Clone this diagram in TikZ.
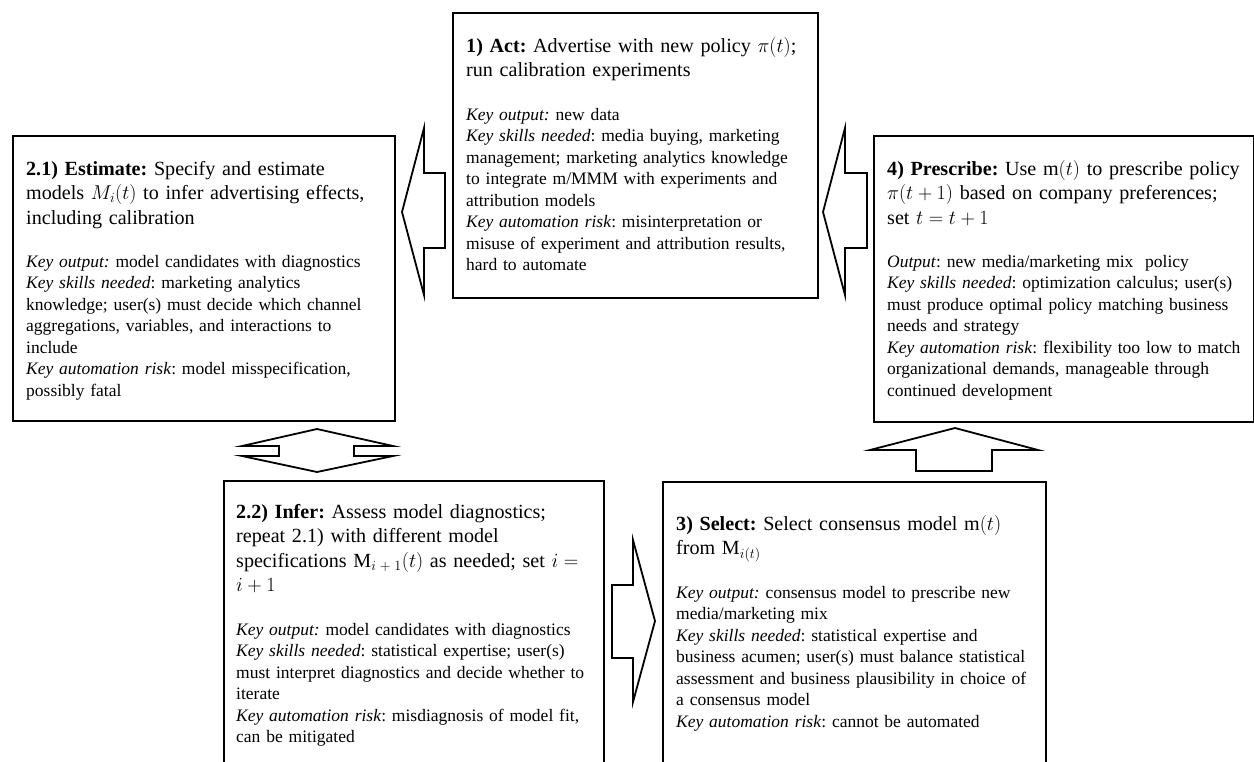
\documentclass[tikz,border=0pt]{standalone}
\usepackage{fix-cm}
\usepackage{fontspec}
\setmainfont{Liberation Serif}
\frenchspacing
\newcommand{\hfnt}{\fontsize{20.1}{24.5}\selectfont}
\newcommand{\bfnt}{\fontsize{17.5}{21.5}\selectfont}
\begin{document}
\frenchspacing
\begin{tikzpicture}[x=1pt,y=-1pt,
  box/.style={draw, line width=2.4pt, rectangle, inner sep=0pt, anchor=north west, fill=white},
  headtxt/.style={anchor=base west, inner sep=0pt, text width=400pt, align=left, font=\hfnt},
  bodytxt/.style={anchor=base west, inner sep=0pt, text width=400pt, align=left, font=\bfnt},
  barrow/.style={draw, line width=1.8pt, line join=miter, fill=white}]
\useasboundingbox (0,0) rectangle (1254,761);
\clip (0,0) rectangle (1254,761);
\fill[white] (0,0) rectangle (1254,761);

% boxes
\node[box, minimum width=365, minimum height=285] (act) at (452,12) {};
\node[box, minimum width=382, minimum height=285] (est) at (12,135) {};
\node[box, minimum width=380, minimum height=286] (pre) at (873,135) {};
\node[box, minimum width=380, minimum height=320] (inf) at (223,480) {};
\node[box, minimum width=383, minimum height=320] (sel) at (662,481) {};

% texts
\node[headtxt] (acth) at (466,52) {\textbf{1) Act:} Advertise with new policy $\pi(t)$;\\run calibration experiments};
\node[bodytxt] (actb) at (466,120) {\textit{Key output:} new data\\
\textit{Key skills needed}: media buying, marketing\\
management; marketing analytics knowledge\\
to integrate m/MMM with experiments and\\
attribution models\\
\textit{Key automation risk}: misinterpretation or\\
misuse of experiment and attribution results,\\
hard to automate};

\node[headtxt] (esth) at (26,175) {\textbf{2.1) Estimate:} Specify and estimate\\models $M_i(t)$ to infer advertising effects,\\including calibration};
\node[bodytxt] (estb) at (26,267) {\textit{Key output:} model candidates with diagnostics\\
\textit{Key skills needed}: marketing analytics\\
knowledge; user(s) must decide which channel\\
aggregations, variables, and interactions to\\
include\\
\textit{Key automation risk}: model misspecification,\\
possibly fatal};

\node[headtxt] (preh) at (887,175) {\textbf{4) Prescribe:} Use $\mathrm{m}(t)$ to prescribe policy\\$\pi(t+1)$ based on company preferences;\\set $t=t+1$};
\node[bodytxt] (preb) at (887,267) {\textit{Output}: new media/marketing mix\ \ policy\\
\textit{Key skills needed}: optimization calculus; user(s)\\
must produce optimal policy matching business\\
needs and strategy\\
\textit{Key automation risk}: flexibility too low to match\\
organizational demands, manageable through\\
continued development};

\node[headtxt] (infh) at (236,518) {\textbf{2.2) Infer:} Assess model diagnostics;\\repeat 2.1) with different model\\specifications $\mathrm{M}_{i\;+\;1}(t)$ as needed; set $i=$\\$i+1$};
\node[bodytxt] (infb) at (236,635) {\textit{Key output:} model candidates with diagnostics\\
\textit{Key skills needed}: statistical expertise; user(s)\\
must interpret diagnostics and decide whether to\\
iterate\\
\textit{Key automation risk}: misdiagnosis of model fit,\\
can be mitigated};

\node[headtxt] (selh) at (676,530) {\textbf{3) Select:} Select consensus model $\mathrm{m}(t)$\\from $\mathrm{M}_{i(t)}$};
\node[bodytxt] (selb) at (676,598) {\textit{Key output:} consensus model to prescribe new\\
media/marketing mix\\
\textit{Key skills needed}: statistical expertise and\\
business acumen; user(s) must balance statistical\\
assessment and business plausibility in choice of\\
a consensus model\\
\textit{Key automation risk}: cannot be automated};

% block arrows
\draw[barrow] (402,212) -- (424,128) -- (424,173) -- (445,173) -- (445,248) -- (424,248) -- (424,295) -- cycle;
\draw[barrow] (823,212) -- (845,128) -- (845,173) -- (867,173) -- (867,248) -- (845,248) -- (845,295) -- cycle;
\draw[barrow] (317,429) -- (393,446) -- (354,446) -- (354,456) -- (393,456) -- (317,472) -- (242,456) -- (279,456) -- (279,446) -- (242,446) -- cycle;
\draw[barrow] (655,621) -- (633,540) -- (633,585) -- (612,585) -- (612,658) -- (633,658) -- (633,702) -- cycle;
\draw[barrow] (955,428) -- (1038,450) -- (992,450) -- (992,471) -- (916,471) -- (916,450) -- (870,450) -- cycle;
\end{tikzpicture}
\end{document}
